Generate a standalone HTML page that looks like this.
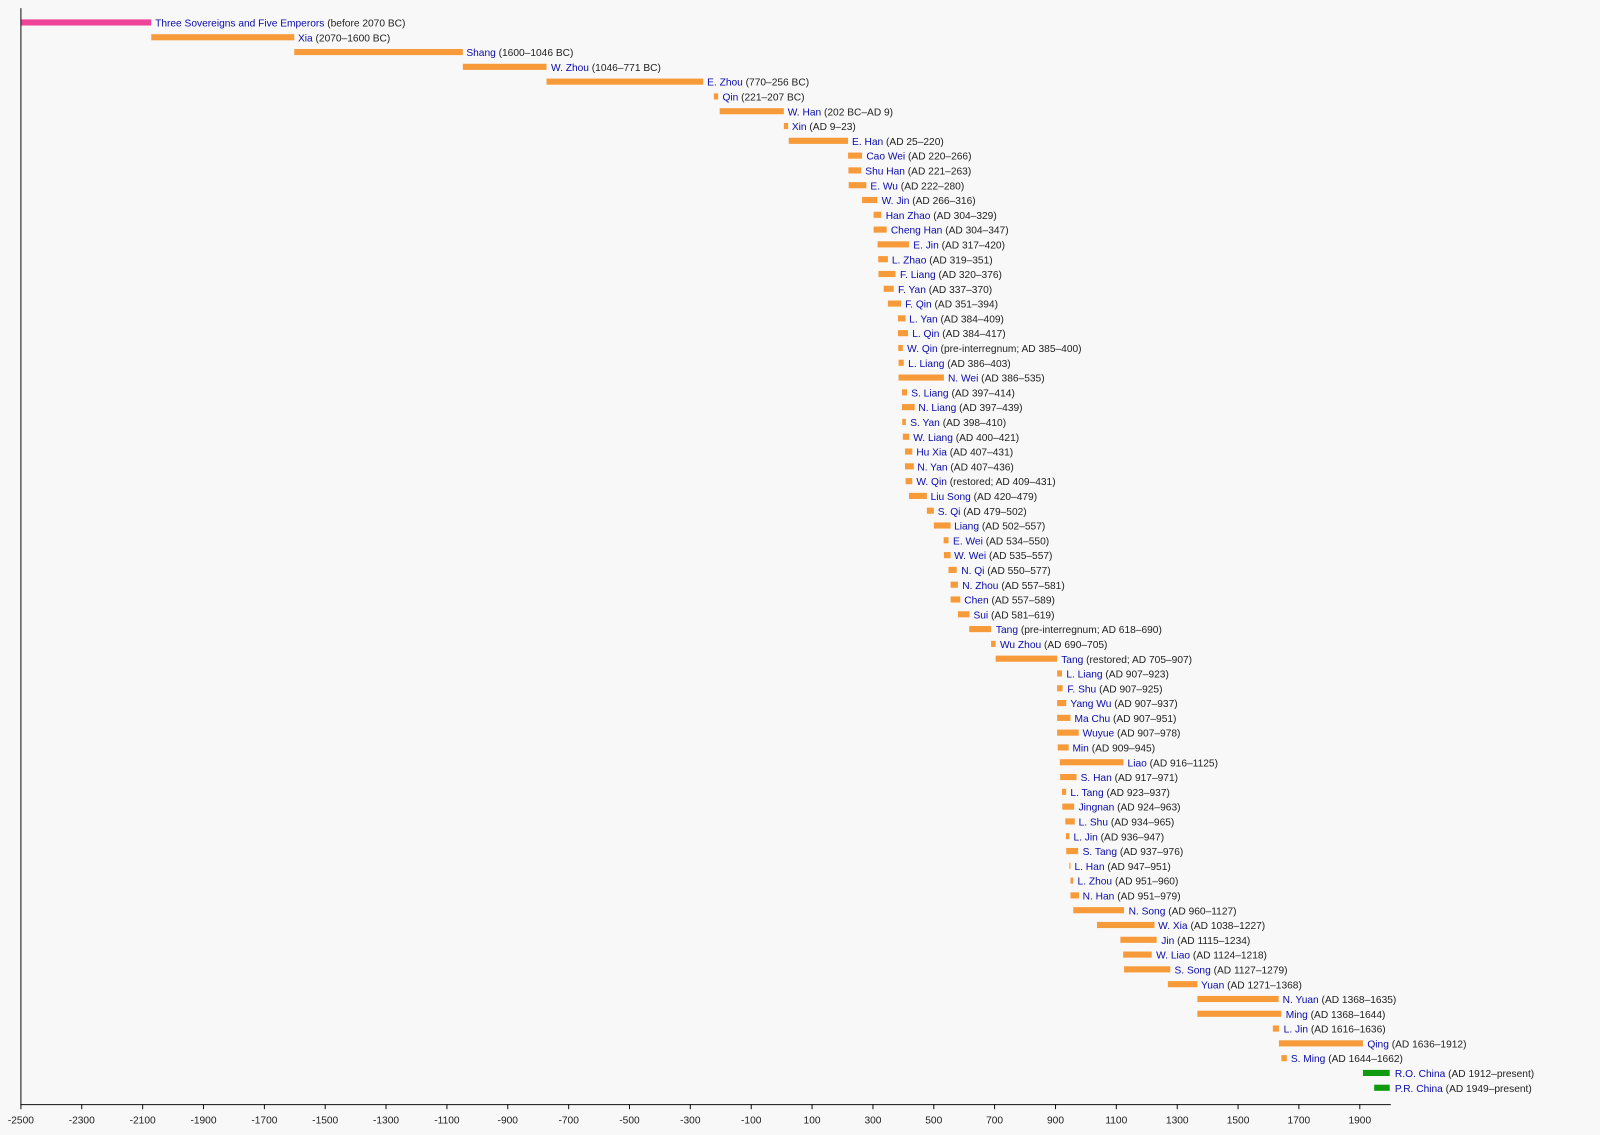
<!DOCTYPE html>
<html><head><meta charset="utf-8"><style>
html,body{margin:0;padding:0;background:#f8f8f8;}
svg{display:block;font-family:"Liberation Sans",sans-serif;}
.n{fill:#0a0aa8}.d{fill:#222}
text{font-size:10px}
.t{font-size:10px;fill:#222;text-anchor:middle}
</style></head><body>
<svg width="1600" height="1135" viewBox="0 0 1568 1112.3" xmlns="http://www.w3.org/2000/svg">
<rect width="1568" height="1112.3" fill="#f8f8f8"/>
<g transform="translate(765.5,0) scale(0.2982,1)">
<g fill="#f79b3a">
<rect x="-2070" y="33.5" width="470" height="6"/>
<rect x="-1600" y="48" width="554" height="6"/>
<rect x="-1046" y="62.5" width="275" height="6"/>
<rect x="-771" y="77" width="515" height="6"/>
<rect x="-221" y="91.5" width="14" height="6"/>
<rect x="-202" y="106" width="211" height="6"/>
<rect x="9" y="120.5" width="14" height="6"/>
<rect x="25" y="135" width="195" height="6"/>
<rect x="220" y="149.5" width="46" height="6"/>
<rect x="221" y="164" width="42" height="6"/>
<rect x="222" y="178.5" width="58" height="6"/>
<rect x="266" y="193" width="50" height="6"/>
<rect x="304" y="207.5" width="25" height="6"/>
<rect x="304" y="222" width="43" height="6"/>
<rect x="317" y="236.5" width="103" height="6"/>
<rect x="319" y="251" width="32" height="6"/>
<rect x="320" y="265.5" width="56" height="6"/>
<rect x="337" y="280" width="33" height="6"/>
<rect x="351" y="294.5" width="43" height="6"/>
<rect x="384" y="309" width="25" height="6"/>
<rect x="384" y="323.5" width="33" height="6"/>
<rect x="385" y="338" width="15" height="6"/>
<rect x="386" y="352.5" width="17" height="6"/>
<rect x="386" y="367" width="149" height="6"/>
<rect x="397" y="381.5" width="17" height="6"/>
<rect x="397" y="396" width="42" height="6"/>
<rect x="398" y="410.5" width="12" height="6"/>
<rect x="400" y="425" width="21" height="6"/>
<rect x="407" y="439.5" width="24" height="6"/>
<rect x="407" y="454" width="29" height="6"/>
<rect x="409" y="468.5" width="22" height="6"/>
<rect x="420" y="483" width="59" height="6"/>
<rect x="479" y="497.5" width="23" height="6"/>
<rect x="502" y="512" width="55" height="6"/>
<rect x="534" y="526.5" width="16" height="6"/>
<rect x="535" y="541" width="22" height="6"/>
<rect x="550" y="555.5" width="27" height="6"/>
<rect x="557" y="570" width="24" height="6"/>
<rect x="557" y="584.5" width="32" height="6"/>
<rect x="581" y="599" width="38" height="6"/>
<rect x="618" y="613.5" width="72" height="6"/>
<rect x="690" y="628" width="15" height="6"/>
<rect x="705" y="642.5" width="202" height="6"/>
<rect x="907" y="657" width="16" height="6"/>
<rect x="907" y="671.5" width="18" height="6"/>
<rect x="907" y="686" width="30" height="6"/>
<rect x="907" y="700.5" width="44" height="6"/>
<rect x="907" y="715" width="71" height="6"/>
<rect x="909" y="729.5" width="36" height="6"/>
<rect x="916" y="744" width="209" height="6"/>
<rect x="917" y="758.5" width="54" height="6"/>
<rect x="923" y="773" width="14" height="6"/>
<rect x="924" y="787.5" width="39" height="6"/>
<rect x="934" y="802" width="31" height="6"/>
<rect x="936" y="816.5" width="11" height="6"/>
<rect x="937" y="831" width="39" height="6"/>
<rect x="947" y="845.5" width="4" height="6"/>
<rect x="951" y="860" width="9" height="6"/>
<rect x="951" y="874.5" width="28" height="6"/>
<rect x="960" y="889" width="167" height="6"/>
<rect x="1038" y="903.5" width="189" height="6"/>
<rect x="1115" y="918" width="119" height="6"/>
<rect x="1124" y="932.5" width="94" height="6"/>
<rect x="1127" y="947" width="152" height="6"/>
<rect x="1271" y="961.5" width="97" height="6"/>
<rect x="1368" y="976" width="267" height="6"/>
<rect x="1368" y="990.5" width="276" height="6"/>
<rect x="1616" y="1005" width="20" height="6"/>
<rect x="1636" y="1019.5" width="276" height="6"/>
<rect x="1644" y="1034" width="18" height="6"/>
</g>
<rect x="-2500" y="19" width="430" height="6" fill="#f0449a"/>
<rect x="1912" y="1048.5" width="88" height="6" fill="#109a10"/>
<rect x="1949" y="1063" width="51" height="6" fill="#109a10"/>
</g>
<g>
<text x="152" y="26"><tspan class="n">Three Sovereigns and Five Emperors</tspan><tspan class="d"> (before 2070 BC)</tspan></text>
<text x="292" y="40.5"><tspan class="n">Xia</tspan><tspan class="d"> (2070–1600 BC)</tspan></text>
<text x="457" y="55"><tspan class="n">Shang</tspan><tspan class="d"> (1600–1046 BC)</tspan></text>
<text x="540" y="69.5"><tspan class="n">W. Zhou</tspan><tspan class="d"> (1046–771 BC)</tspan></text>
<text x="693" y="84"><tspan class="n">E. Zhou</tspan><tspan class="d"> (770–256 BC)</tspan></text>
<text x="708" y="98.5"><tspan class="n">Qin</tspan><tspan class="d"> (221–207 BC)</tspan></text>
<text x="772" y="113"><tspan class="n">W. Han</tspan><tspan class="d"> (202 BC–AD 9)</tspan></text>
<text x="776" y="127.5"><tspan class="n">Xin</tspan><tspan class="d"> (AD 9–23)</tspan></text>
<text x="835" y="142"><tspan class="n">E. Han</tspan><tspan class="d"> (AD 25–220)</tspan></text>
<text x="849" y="156.5"><tspan class="n">Cao Wei</tspan><tspan class="d"> (AD 220–266)</tspan></text>
<text x="848" y="171"><tspan class="n">Shu Han</tspan><tspan class="d"> (AD 221–263)</tspan></text>
<text x="853" y="185.5"><tspan class="n">E. Wu</tspan><tspan class="d"> (AD 222–280)</tspan></text>
<text x="864" y="200"><tspan class="n">W. Jin</tspan><tspan class="d"> (AD 266–316)</tspan></text>
<text x="868" y="214.5"><tspan class="n">Han Zhao</tspan><tspan class="d"> (AD 304–329)</tspan></text>
<text x="873" y="229"><tspan class="n">Cheng Han</tspan><tspan class="d"> (AD 304–347)</tspan></text>
<text x="895" y="243.5"><tspan class="n">E. Jin</tspan><tspan class="d"> (AD 317–420)</tspan></text>
<text x="874" y="258"><tspan class="n">L. Zhao</tspan><tspan class="d"> (AD 319–351)</tspan></text>
<text x="882" y="272.5"><tspan class="n">F. Liang</tspan><tspan class="d"> (AD 320–376)</tspan></text>
<text x="880" y="287"><tspan class="n">F. Yan</tspan><tspan class="d"> (AD 337–370)</tspan></text>
<text x="887" y="301.5"><tspan class="n">F. Qin</tspan><tspan class="d"> (AD 351–394)</tspan></text>
<text x="891" y="316"><tspan class="n">L. Yan</tspan><tspan class="d"> (AD 384–409)</tspan></text>
<text x="894" y="330.5"><tspan class="n">L. Qin</tspan><tspan class="d"> (AD 384–417)</tspan></text>
<text x="889" y="345"><tspan class="n">W. Qin</tspan><tspan class="d"> (pre-interregnum; AD 385–400)</tspan></text>
<text x="890" y="359.5"><tspan class="n">L. Liang</tspan><tspan class="d"> (AD 386–403)</tspan></text>
<text x="929" y="374"><tspan class="n">N. Wei</tspan><tspan class="d"> (AD 386–535)</tspan></text>
<text x="893" y="388.5"><tspan class="n">S. Liang</tspan><tspan class="d"> (AD 397–414)</tspan></text>
<text x="900" y="403"><tspan class="n">N. Liang</tspan><tspan class="d"> (AD 397–439)</tspan></text>
<text x="892" y="417.5"><tspan class="n">S. Yan</tspan><tspan class="d"> (AD 398–410)</tspan></text>
<text x="895" y="432"><tspan class="n">W. Liang</tspan><tspan class="d"> (AD 400–421)</tspan></text>
<text x="898" y="446.5"><tspan class="n">Hu Xia</tspan><tspan class="d"> (AD 407–431)</tspan></text>
<text x="899" y="461"><tspan class="n">N. Yan</tspan><tspan class="d"> (AD 407–436)</tspan></text>
<text x="898" y="475.5"><tspan class="n">W. Qin</tspan><tspan class="d"> (restored; AD 409–431)</tspan></text>
<text x="912" y="490"><tspan class="n">Liu Song</tspan><tspan class="d"> (AD 420–479)</tspan></text>
<text x="919" y="504.5"><tspan class="n">S. Qi</tspan><tspan class="d"> (AD 479–502)</tspan></text>
<text x="935" y="519"><tspan class="n">Liang</tspan><tspan class="d"> (AD 502–557)</tspan></text>
<text x="934" y="533.5"><tspan class="n">E. Wei</tspan><tspan class="d"> (AD 534–550)</tspan></text>
<text x="935" y="548"><tspan class="n">W. Wei</tspan><tspan class="d"> (AD 535–557)</tspan></text>
<text x="942" y="562.5"><tspan class="n">N. Qi</tspan><tspan class="d"> (AD 550–577)</tspan></text>
<text x="943" y="577"><tspan class="n">N. Zhou</tspan><tspan class="d"> (AD 557–581)</tspan></text>
<text x="945" y="591.5"><tspan class="n">Chen</tspan><tspan class="d"> (AD 557–589)</tspan></text>
<text x="954" y="606"><tspan class="n">Sui</tspan><tspan class="d"> (AD 581–619)</tspan></text>
<text x="976" y="620.5"><tspan class="n">Tang</tspan><tspan class="d"> (pre-interregnum; AD 618–690)</tspan></text>
<text x="980" y="635"><tspan class="n">Wu Zhou</tspan><tspan class="d"> (AD 690–705)</tspan></text>
<text x="1040" y="649.5"><tspan class="n">Tang</tspan><tspan class="d"> (restored; AD 705–907)</tspan></text>
<text x="1045" y="664"><tspan class="n">L. Liang</tspan><tspan class="d"> (AD 907–923)</tspan></text>
<text x="1046" y="678.5"><tspan class="n">F. Shu</tspan><tspan class="d"> (AD 907–925)</tspan></text>
<text x="1049" y="693"><tspan class="n">Yang Wu</tspan><tspan class="d"> (AD 907–937)</tspan></text>
<text x="1053" y="707.5"><tspan class="n">Ma Chu</tspan><tspan class="d"> (AD 907–951)</tspan></text>
<text x="1061" y="722"><tspan class="n">Wuyue</tspan><tspan class="d"> (AD 907–978)</tspan></text>
<text x="1051" y="736.5"><tspan class="n">Min</tspan><tspan class="d"> (AD 909–945)</tspan></text>
<text x="1105" y="751"><tspan class="n">Liao</tspan><tspan class="d"> (AD 916–1125)</tspan></text>
<text x="1059" y="765.5"><tspan class="n">S. Han</tspan><tspan class="d"> (AD 917–971)</tspan></text>
<text x="1049" y="780"><tspan class="n">L. Tang</tspan><tspan class="d"> (AD 923–937)</tspan></text>
<text x="1057" y="794.5"><tspan class="n">Jingnan</tspan><tspan class="d"> (AD 924–963)</tspan></text>
<text x="1057" y="809"><tspan class="n">L. Shu</tspan><tspan class="d"> (AD 934–965)</tspan></text>
<text x="1052" y="823.5"><tspan class="n">L. Jin</tspan><tspan class="d"> (AD 936–947)</tspan></text>
<text x="1061" y="838"><tspan class="n">S. Tang</tspan><tspan class="d"> (AD 937–976)</tspan></text>
<text x="1053" y="852.5"><tspan class="n">L. Han</tspan><tspan class="d"> (AD 947–951)</tspan></text>
<text x="1056" y="867"><tspan class="n">L. Zhou</tspan><tspan class="d"> (AD 951–960)</tspan></text>
<text x="1061" y="881.5"><tspan class="n">N. Han</tspan><tspan class="d"> (AD 951–979)</tspan></text>
<text x="1106" y="896"><tspan class="n">N. Song</tspan><tspan class="d"> (AD 960–1127)</tspan></text>
<text x="1135" y="910.5"><tspan class="n">W. Xia</tspan><tspan class="d"> (AD 1038–1227)</tspan></text>
<text x="1138" y="925"><tspan class="n">Jin</tspan><tspan class="d"> (AD 1115–1234)</tspan></text>
<text x="1133" y="939.5"><tspan class="n">W. Liao</tspan><tspan class="d"> (AD 1124–1218)</tspan></text>
<text x="1151" y="954"><tspan class="n">S. Song</tspan><tspan class="d"> (AD 1127–1279)</tspan></text>
<text x="1177" y="968.5"><tspan class="n">Yuan</tspan><tspan class="d"> (AD 1271–1368)</tspan></text>
<text x="1257" y="983"><tspan class="n">N. Yuan</tspan><tspan class="d"> (AD 1368–1635)</tspan></text>
<text x="1260" y="997.5"><tspan class="n">Ming</tspan><tspan class="d"> (AD 1368–1644)</tspan></text>
<text x="1258" y="1012"><tspan class="n">L. Jin</tspan><tspan class="d"> (AD 1616–1636)</tspan></text>
<text x="1340" y="1026.5"><tspan class="n">Qing</tspan><tspan class="d"> (AD 1636–1912)</tspan></text>
<text x="1265" y="1041"><tspan class="n">S. Ming</tspan><tspan class="d"> (AD 1644–1662)</tspan></text>
<text x="1367" y="1055.5"><tspan class="n">R.O. China</tspan><tspan class="d"> (AD 1912–present)</tspan></text>
<text x="1367" y="1070"><tspan class="n">P.R. China</tspan><tspan class="d"> (AD 1949–present)</tspan></text>
</g>
<g stroke="#111" stroke-width="1">
<line x1="20.5" y1="8" x2="20.5" y2="1082.5"/>
<line x1="20" y1="1082.5" x2="1363" y2="1082.5"/>
<line x1="20.5" y1="1082" x2="20.5" y2="1087"/>
<line x1="80.1" y1="1082" x2="80.1" y2="1087"/>
<line x1="139.8" y1="1082" x2="139.8" y2="1087"/>
<line x1="199.4" y1="1082" x2="199.4" y2="1087"/>
<line x1="259.1" y1="1082" x2="259.1" y2="1087"/>
<line x1="318.7" y1="1082" x2="318.7" y2="1087"/>
<line x1="378.3" y1="1082" x2="378.3" y2="1087"/>
<line x1="438" y1="1082" x2="438" y2="1087"/>
<line x1="497.6" y1="1082" x2="497.6" y2="1087"/>
<line x1="557.3" y1="1082" x2="557.3" y2="1087"/>
<line x1="616.9" y1="1082" x2="616.9" y2="1087"/>
<line x1="676.5" y1="1082" x2="676.5" y2="1087"/>
<line x1="736.2" y1="1082" x2="736.2" y2="1087"/>
<line x1="795.8" y1="1082" x2="795.8" y2="1087"/>
<line x1="855.5" y1="1082" x2="855.5" y2="1087"/>
<line x1="915.1" y1="1082" x2="915.1" y2="1087"/>
<line x1="974.7" y1="1082" x2="974.7" y2="1087"/>
<line x1="1034.4" y1="1082" x2="1034.4" y2="1087"/>
<line x1="1094" y1="1082" x2="1094" y2="1087"/>
<line x1="1153.7" y1="1082" x2="1153.7" y2="1087"/>
<line x1="1213.3" y1="1082" x2="1213.3" y2="1087"/>
<line x1="1272.9" y1="1082" x2="1272.9" y2="1087"/>
<line x1="1332.6" y1="1082" x2="1332.6" y2="1087"/>
</g>
<g class="t">
<text class="t" x="20.5" y="1101">-2500</text>
<text class="t" x="80.1" y="1101">-2300</text>
<text class="t" x="139.8" y="1101">-2100</text>
<text class="t" x="199.4" y="1101">-1900</text>
<text class="t" x="259.1" y="1101">-1700</text>
<text class="t" x="318.7" y="1101">-1500</text>
<text class="t" x="378.3" y="1101">-1300</text>
<text class="t" x="438" y="1101">-1100</text>
<text class="t" x="497.6" y="1101">-900</text>
<text class="t" x="557.3" y="1101">-700</text>
<text class="t" x="616.9" y="1101">-500</text>
<text class="t" x="676.5" y="1101">-300</text>
<text class="t" x="736.2" y="1101">-100</text>
<text class="t" x="795.8" y="1101">100</text>
<text class="t" x="855.5" y="1101">300</text>
<text class="t" x="915.1" y="1101">500</text>
<text class="t" x="974.7" y="1101">700</text>
<text class="t" x="1034.4" y="1101">900</text>
<text class="t" x="1094" y="1101">1100</text>
<text class="t" x="1153.7" y="1101">1300</text>
<text class="t" x="1213.3" y="1101">1500</text>
<text class="t" x="1272.9" y="1101">1700</text>
<text class="t" x="1332.6" y="1101">1900</text>
</g>
</svg>
</body></html>
